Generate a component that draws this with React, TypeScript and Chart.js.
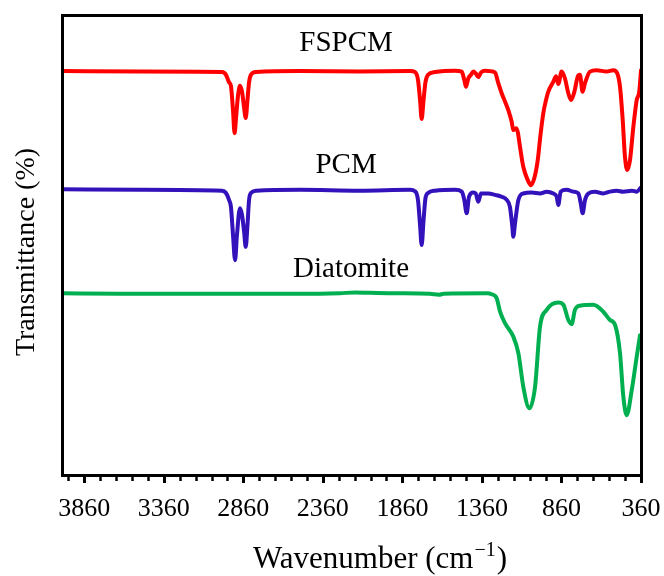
import { useEffect, useRef } from 'react';
import { Chart, registerables } from 'chart.js';

Chart.register(...registerables);

// ---- data (wavenumber in cm^-1, transmittance in arbitrary %) ----
const fspcmWavenumber = [4000, 3510, 2994, 2969, 2950, 2938, 2925, 2915, 2906, 2893, 2881, 2868, 2855, 2845, 2834, 2824, 2812, 2780, 2504, 2127, 1812, 1781, 1762, 1749, 1739, 1727, 1715, 1699, 1655, 1529, 1487, 1471, 1460, 1446, 1429, 1414, 1399, 1383, 1366, 1341, 1309, 1278, 1257, 1236, 1215, 1194, 1173, 1163, 1146, 1135, 1121, 1100, 1072, 1052, 1031, 1009, 992, 974, 960, 943, 911, 894, 880, 859, 838, 817, 800, 779, 758, 744, 727, 712, 681, 639, 576, 534, 509, 492, 475, 461, 446, 429, 408, 387, 371, 360];
const fspcmTransmittance = [87.8, 87.7, 87.6, 87.0, 85.4, 84.6, 79.3, 74.3, 77.6, 82.6, 84.6, 83.3, 79.8, 77.6, 81.5, 85.4, 87.0, 87.6, 87.8, 87.7, 87.8, 87.6, 85.9, 81.5, 77.4, 81.5, 85.4, 87.0, 87.6, 87.9, 87.7, 85.9, 84.4, 86.2, 87.0, 87.7, 87.3, 86.5, 87.5, 87.9, 87.8, 87.5, 85.2, 83.0, 81.2, 79.3, 76.8, 75.0, 75.4, 74.6, 71.4, 67.0, 64.1, 63.0, 64.5, 68.5, 73.9, 78.7, 81.1, 83.3, 85.5, 86.7, 85.0, 87.7, 86.2, 83.0, 81.5, 83.3, 86.6, 87.0, 83.3, 85.2, 87.7, 88.0, 87.7, 88.0, 87.3, 84.4, 77.2, 69.2, 66.3, 68.5, 75.7, 81.5, 83.3, 88.0];

const pcmWavenumber = [4000, 3510, 2994, 2969, 2950, 2938, 2925, 2912, 2900, 2881, 2868, 2855, 2845, 2834, 2824, 2812, 2780, 2504, 2127, 1812, 1781, 1762, 1749, 1739, 1727, 1715, 1699, 1655, 1529, 1487, 1471, 1456, 1441, 1414, 1399, 1383, 1366, 1320, 1278, 1236, 1204, 1184, 1169, 1163, 1152, 1131, 1100, 1047, 995, 953, 911, 890, 880, 865, 827, 786, 754, 739, 727, 712, 691, 649, 597, 555, 513, 471, 418, 387, 360];
const pcmTransmittance = [62.1, 62.0, 61.8, 61.3, 59.8, 58.3, 52.2, 46.7, 52.2, 58.0, 56.5, 52.8, 49.6, 54.3, 59.8, 61.3, 61.8, 62.0, 61.8, 62.0, 61.7, 59.8, 54.3, 50.0, 55.4, 60.2, 61.3, 61.8, 62.0, 61.6, 59.8, 56.9, 60.5, 61.4, 61.2, 59.4, 61.2, 61.2, 60.9, 60.5, 59.8, 58.3, 54.0, 51.8, 54.7, 59.8, 61.2, 61.4, 61.2, 61.6, 61.2, 60.5, 58.7, 61.6, 62.0, 61.6, 61.2, 59.1, 56.9, 59.8, 61.2, 61.6, 61.2, 61.6, 61.8, 61.6, 61.8, 61.6, 62.5];

const diatomiteWavenumber = [4000, 3635, 3132, 2378, 2252, 2158, 2064, 1919, 1687, 1630, 1600, 1328, 1299, 1267, 1246, 1215, 1163, 1131, 1100, 1062, 1026, 995, 953, 880, 848, 817, 796, 775, 744, 660, 597, 555, 523, 492, 471, 450, 418, 387, 366];
const diatomiteTransmittance = [39.5, 39.4, 39.4, 39.4, 39.5, 39.7, 39.6, 39.5, 39.4, 39.2, 39.4, 39.5, 39.3, 38.4, 35.5, 33.0, 30.1, 26.5, 19.2, 14.5, 19.2, 32.2, 35.9, 37.5, 37.0, 33.7, 32.8, 35.9, 36.8, 37.0, 35.5, 33.7, 32.6, 26.5, 17.0, 13.0, 18.5, 25.7, 30.4];

const seriesNames = ['FSPCM', 'PCM', 'Diatomite'];
const seriesColors = ['#FF0000', '#3311BB', '#00B050'];
const seriesLabelWavenumber = [2214, 2214, 2183];
const seriesLabelTransmittance = [93.9, 67.4, 44.6];

const minorTickValues = Array.from({ length: 37 }, (_, i) => 360 + i * 100);
const majorTickValues = [360, 860, 1360, 1860, 2360, 2860, 3360, 3860];

const xTitleMain = 'Wavenumber (cm';
const xTitleSup = '\u22121';
const xTitleEnd = ')';
const yTitle = 'Transmittance (%)';

const SERIF = '"Liberation Serif", "Times New Roman", serif';

const toPoints = (xs: number[], ys: number[]) => xs.map((x, i) => ({ x, y: ys[i] }));

const decorPlugin = {
  id: 'decor',
  afterDraw(chart: any) {
    const { ctx, chartArea: a, scales } = chart;
    const xs = scales.x;
    const ys = scales.y;
    ctx.save();
    ctx.strokeStyle = '#000';
    ctx.fillStyle = '#000';
    // frame
    ctx.lineWidth = 3;
    ctx.strokeRect(a.left + 0.5, a.top + 0.5, a.right - a.left, a.bottom - a.top);
    // tick marks
    minorTickValues.forEach((v) => {
      const major = majorTickValues.includes(v);
      const px = Math.round(xs.getPixelForValue(v)) + 0.5;
      ctx.lineWidth = major ? 3 : 2.5;
      ctx.beginPath();
      ctx.moveTo(px, a.bottom + 1);
      ctx.lineTo(px, a.bottom + (major ? 8 : 6));
      ctx.stroke();
    });
    // series labels
    ctx.font = `29px ${SERIF}`;
    ctx.textAlign = 'center';
    ctx.textBaseline = 'middle';
    seriesNames.forEach((n, i) => {
      ctx.fillText(n, xs.getPixelForValue(seriesLabelWavenumber[i]), ys.getPixelForValue(seriesLabelTransmittance[i]));
    });
    // x title with superscript
    const mainFont = `31px ${SERIF}`;
    const supFont = `20px ${SERIF}`;
    ctx.textAlign = 'left';
    ctx.textBaseline = 'alphabetic';
    ctx.font = mainFont;
    const w1 = ctx.measureText(xTitleMain).width;
    const w3 = ctx.measureText(xTitleEnd).width;
    ctx.font = supFont;
    const w2 = ctx.measureText(xTitleSup).width;
    let sx = 380 - (w1 + w2 + w3 + 2) / 2;
    const baseY = 568;
    ctx.font = mainFont;
    ctx.fillText(xTitleMain, sx, baseY);
    sx += w1 + 1;
    ctx.font = supFont;
    ctx.fillText(xTitleSup, sx, baseY - 12);
    sx += w2 + 1;
    ctx.font = mainFont;
    ctx.fillText(xTitleEnd, sx, baseY);
    // y title
    ctx.translate(27, 252);
    ctx.rotate(-Math.PI / 2);
    ctx.font = `28px ${SERIF}`;
    ctx.textAlign = 'center';
    ctx.textBaseline = 'middle';
    ctx.fillText(yTitle, 0, 0);
    ctx.restore();
  },
};

export default function App() {
  const canvasRef = useRef<HTMLCanvasElement | null>(null);

  useEffect(() => {
    const canvas = canvasRef.current;
    if (!canvas) return;
    const series = [
      toPoints(fspcmWavenumber, fspcmTransmittance),
      toPoints(pcmWavenumber, pcmTransmittance),
      toPoints(diatomiteWavenumber, diatomiteTransmittance),
    ];
    const chart = new Chart(canvas, {
      type: 'line',
      data: {
        datasets: series.map((d, i) => ({
          label: seriesNames[i],
          data: d,
          borderColor: seriesColors[i],
          backgroundColor: seriesColors[i],
          borderWidth: 4,
          pointRadius: 0,
          fill: false,
          cubicInterpolationMode: 'monotone' as const,
          borderJoinStyle: 'round' as const,
          borderCapStyle: 'round' as const,
        })),
      },
      options: {
        responsive: false,
        animation: false,
        devicePixelRatio: 1,
        layout: { padding: { top: 15, right: 23, left: 0, bottom: 0 } },
        plugins: { legend: { display: false }, tooltip: { enabled: false } },
        scales: {
          x: {
            type: 'linear',
            min: 360,
            max: 4000,
            reverse: true,
            grid: { display: false },
            border: { display: false },
            afterBuildTicks: (scale: any) => {
              scale.ticks = minorTickValues.map((v) => ({ value: v }));
            },
            afterFit: (scale: any) => {
              scale.height = 101;
            },
            ticks: {
              autoSkip: false,
              maxRotation: 0,
              padding: 11,
              color: '#000',
              font: { family: SERIF, size: 26 },
              callback: (v: any) => (majorTickValues.includes(Number(v)) ? String(v) : ''),
            },
          },
          y: {
            type: 'linear',
            min: 0,
            max: 100,
            grid: { display: false },
            border: { display: false },
            ticks: { display: false },
            afterFit: (scale: any) => {
              scale.width = 62;
            },
          },
        },
      },
      plugins: [decorPlugin],
    });
    return () => chart.destroy();
  }, []);

  return (
    <div style={{ position: 'fixed', left: 0, top: 0, width: 664, height: 576, background: '#fff' }}>
      <canvas ref={canvasRef} width={664} height={576} style={{ display: 'block', width: 664, height: 576 }} />
    </div>
  );
}
